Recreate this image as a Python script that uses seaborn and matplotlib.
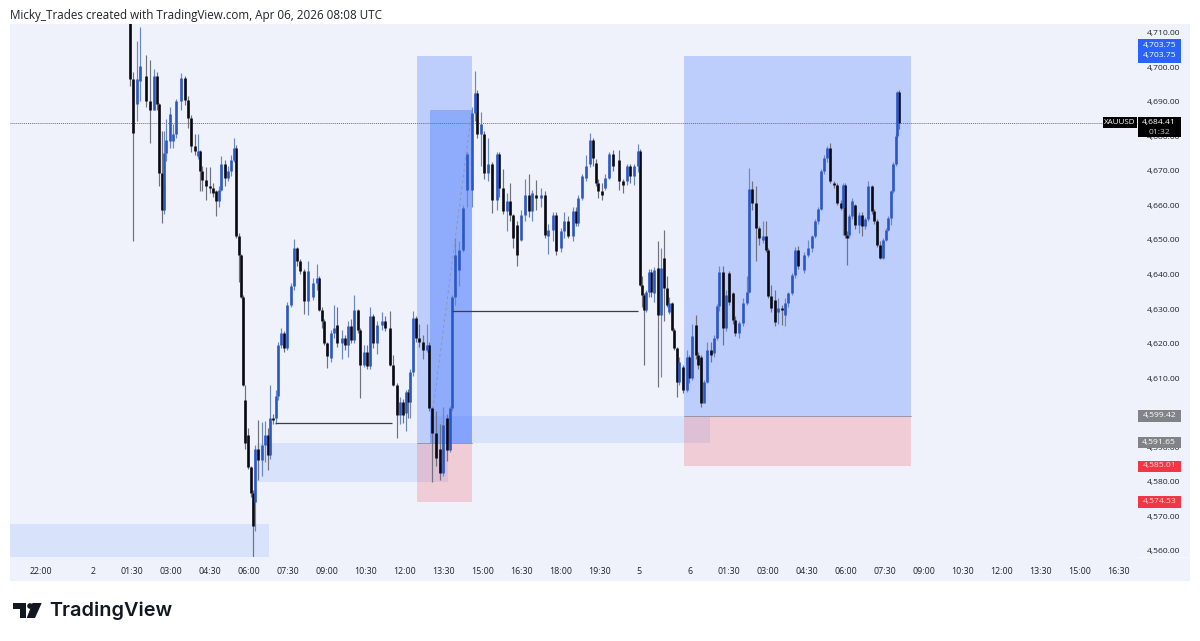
import numpy as np
import pandas as pd
import matplotlib.pyplot as plt
import seaborn as sns
from matplotlib.patches import Rectangle, Polygon, Circle
from matplotlib.transforms import ScaledTranslation

# bar position on the time axis (1 slot = 1/39 of a 90 minute tick step)
slots = [1, 4, 8, 11, 17, 21, 25, 28, 30, 33,
         35, 37, 41, 44, 47, 52, 56, 59, 62, 66,
         69, 71, 73, 77, 81, 84, 87, 90, 92, 96,
         99, 102, 105, 107, 110, 112, 114, 116, 119, 122,
         124, 126, 129, 133, 136, 139, 141, 144, 147, 149,
         152, 155, 158, 162, 165, 168, 171, 175, 179, 184,
         188, 190, 193, 195, 198, 202, 205, 208, 213, 216,
         219, 222, 225, 229, 231, 235, 238, 241, 244, 248,
         253, 256, 261, 264, 268, 271, 274, 277, 279, 281,
         284, 287, 290, 294, 298, 300, 303, 307, 311, 314,
         318, 321, 323, 326, 330, 334, 338, 343, 346, 348,
         352, 355, 359, 363, 368, 370, 374, 378, 381, 384,
         388, 392, 396, 400, 403, 407, 412, 416, 419, 424,
         427, 432, 435, 439, 444, 447, 449, 453, 457, 461,
         464, 467, 469, 473, 476, 480, 484, 490, 494, 498,
         501, 505, 509, 511, 513, 515, 517, 520, 522, 525,
         529, 532, 535, 538, 540, 543, 545, 548, 550, 554,
         558, 560, 563, 567, 569, 572, 575, 578, 582, 585,
         588, 590, 594, 597, 600, 604, 606, 610, 614, 618,
         620, 623, 627, 630, 634, 637, 639, 642, 646, 649,
         653, 656, 659, 663, 666, 669, 675, 679, 683, 686,
         689, 692, 695, 698, 701, 705, 708, 712, 714, 716,
         718, 720, 723, 726, 730, 733, 736, 739, 743, 745,
         748, 751, 754, 757, 759, 762, 764, 767, 768, 770]
opens = [4716, 4697, 4689.7, 4696.5, 4697.9, 4690.7, 4688.2, 4697.9, 4689.7, 4669.9,
         4659.2, 4675.7, 4679, 4679, 4681, 4690.7, 4697.4, 4691, 4685.8, 4677.6,
         4674.8, 4676.2, 4670.3, 4667.9, 4666, 4665.5, 4664.5, 4661.6, 4665, 4672.3,
         4668.4, 4670.3, 4673.7, 4677.1, 4651.5, 4646.1, 4634, 4604.1, 4593.9, 4584.7,
         4577, 4574.6, 4590, 4586.7, 4591, 4593.9, 4588.1, 4598.8, 4598.8, 4605.1,
         4620.1, 4623.5, 4619.1, 4631.7, 4637, 4648.2, 4644.3, 4641.4, 4632.7, 4634,
         4638, 4639.4, 4630.2, 4626.9, 4620.6, 4616.2, 4623.5, 4625.9, 4620.6, 4622,
         4620.1, 4625.4, 4621.5, 4630.2, 4624.4, 4614.3, 4618.1, 4613.8, 4628.3, 4620.6,
         4625.9, 4626.9, 4624.9, 4614.3, 4608.5, 4599.8, 4603.6, 4600.2, 4606.5, 4603.6,
         4612.3, 4627.8, 4622, 4621, 4618.6, 4619.9, 4601.7, 4594.4, 4590, 4582.8,
         4598.8, 4589.6, 4601.7, 4634, 4641.8, 4647.6, 4665, 4665, 4687.3, 4693.1,
         4681, 4681, 4669.9, 4672.3, 4662.1, 4675.2, 4665.5, 4658.7, 4661.6, 4657.8,
         4654.9, 4650.5, 4657.8, 4663.6, 4658.7, 4663.6, 4662.6, 4663.6, 4651.5, 4653.4,
         4657.8, 4648.1, 4652.9, 4655.8, 4651.5, 4658.7, 4655.3, 4662.6, 4668.4, 4672.3,
         4679.5, 4672.8, 4667, 4664.5, 4665.5, 4668.4, 4675.2, 4673.7, 4667.4, 4667.4,
         4671.8, 4668.9, 4671.8, 4676.2, 4637.5, 4634.6, 4630.2, 4635.5, 4641.3, 4635,
         4642.3, 4628.8, 4645.2, 4636.5, 4629.7, 4632.1, 4624.4, 4619.1, 4609.4, 4613.7,
         4607, 4616.6, 4610.4, 4625.9, 4617.1, 4616.6, 4603.1, 4609.4, 4618.6, 4617.6,
         4622, 4631.2, 4641.3, 4624.9, 4640.9, 4635, 4627.3, 4623.4, 4626.3, 4632.1,
         4635.5, 4665.1, 4661.2, 4653.9, 4650.5, 4651.5, 4647.6, 4634.1, 4633.1, 4629.7,
         4630.7, 4628.8, 4632.1, 4635, 4640.4, 4647.6, 4641.8, 4646.2, 4648.1, 4651.5,
         4655.9, 4659.3, 4670.4, 4674.3, 4677.2, 4667, 4666.5, 4661.2, 4659.7, 4666.5,
         4652, 4652, 4657.3, 4660.7, 4654.9, 4657.8, 4654.4, 4656.4, 4666, 4658.8,
         4655.9, 4649.1, 4645.2, 4650.5, 4653.4, 4656.8, 4664.6, 4672.3, 4680.5, 4693.3]
highs = [4718, 4699, 4708, 4712, 4704, 4702.7, 4699.9, 4699, 4690, 4682,
         4682, 4685.4, 4689, 4684, 4691.2, 4698.9, 4697.8, 4692, 4686.5, 4681,
         4681, 4676.5, 4672, 4671.5, 4671.5, 4667, 4665, 4666, 4674.7, 4673.5,
         4672, 4675, 4680, 4678, 4652.5, 4646.5, 4634.5, 4608.5, 4596, 4585,
         4578, 4591, 4598.3, 4597.8, 4598, 4596, 4608.5, 4600, 4607, 4621,
         4625, 4624, 4632.5, 4638, 4650.6, 4648.5, 4645, 4642, 4644.3, 4639.5,
         4643.5, 4640, 4631, 4627.5, 4621, 4624.5, 4631.5, 4631, 4624.5, 4623,
         4627, 4627.5, 4634.6, 4630.5, 4625, 4620, 4620, 4631, 4629, 4627,
         4629.7, 4628.5, 4630, 4617, 4609, 4605, 4604.5, 4607, 4607.2, 4613,
         4629.8, 4628.5, 4626, 4623, 4626, 4621, 4602, 4601, 4597, 4602,
         4600, 4602.3, 4634.5, 4651, 4650, 4660.5, 4676, 4689, 4699.4, 4694,
         4687.5, 4682, 4680, 4673, 4676, 4676, 4671, 4664, 4667, 4658,
         4656, 4659, 4668, 4669.5, 4665, 4667.8, 4665.5, 4664.5, 4655, 4658.5,
         4658.5, 4654, 4658.5, 4657.5, 4660, 4660, 4663.5, 4669.5, 4675, 4681.5,
         4680, 4674, 4668, 4667, 4669.5, 4676, 4676.5, 4676.5, 4668, 4672.5,
         4672.5, 4672.3, 4678.1, 4676.8, 4640, 4635, 4636, 4642, 4642, 4642.5,
         4650, 4648, 4653.4, 4640, 4634, 4632.6, 4625, 4619.5, 4616.5, 4614.2,
         4618.5, 4617, 4626, 4628.8, 4618, 4617, 4610, 4621, 4621, 4622.8,
         4632, 4642.8, 4642.8, 4636, 4641.5, 4635.5, 4628.5, 4627, 4633.5, 4640,
         4671.4, 4667.5, 4666, 4654.5, 4656, 4655.8, 4648, 4637.5, 4636, 4633.5,
         4631.5, 4633.5, 4635.5, 4641, 4648.5, 4648.7, 4647, 4650.5, 4652, 4656.5,
         4660, 4671, 4675, 4677.8, 4678.5, 4667.5, 4667, 4662, 4667, 4667,
         4653, 4658, 4662.5, 4661, 4658.5, 4658.5, 4657, 4667.5, 4666.5, 4659.5,
         4656.5, 4650, 4651, 4654, 4657.5, 4665, 4673, 4681.5, 4693.5, 4693.8]
lows = [4695, 4650, 4685, 4690.7, 4689, 4678.6, 4688.2, 4688, 4666, 4655.3,
        4658, 4673.3, 4677, 4677, 4680, 4688, 4689.5, 4683, 4676, 4675,
        4674, 4664.5, 4664.5, 4662, 4664, 4663, 4657.3, 4660, 4664.5, 4666,
        4667.5, 4669, 4673, 4651, 4638.4, 4633.5, 4608, 4590, 4584, 4576,
        4557.8, 4566, 4580.9, 4582, 4586, 4583.8, 4587, 4597, 4597, 4604,
        4619, 4618, 4618.5, 4631, 4636, 4643, 4640.5, 4629, 4628.8, 4633,
        4636, 4630, 4625, 4620, 4613.3, 4615, 4622, 4619.5, 4616, 4618.5,
        4616.5, 4620.5, 4620.5, 4623.5, 4604.6, 4613.5, 4613, 4613, 4619, 4617.5,
        4624.5, 4624, 4614, 4608, 4593, 4597, 4597.5, 4595, 4599, 4599,
        4611, 4621, 4619.5, 4616, 4618, 4601, 4580.4, 4585, 4580.9, 4582,
        4586.5, 4589, 4601, 4631.5, 4637, 4647, 4660, 4660, 4685, 4680,
        4672, 4668, 4667.5, 4658.3, 4659, 4663, 4658, 4653, 4656, 4648,
        4642.8, 4650, 4656, 4657, 4656, 4659, 4660, 4651, 4646.5, 4650,
        4646, 4647, 4651, 4651, 4650, 4654.5, 4654.5, 4662, 4667.5, 4671.5,
        4672, 4666, 4662.5, 4662, 4665, 4668, 4670.5, 4665, 4664, 4666.5,
        4667, 4666.5, 4670, 4637, 4631, 4614.2, 4629.5, 4634, 4634, 4632.5,
        4607.9, 4610.8, 4627, 4631, 4629, 4624, 4618.5, 4605, 4608.5, 4606,
        4606.5, 4609, 4610, 4616, 4613, 4602, 4604.5, 4609, 4615, 4616.5,
        4621.5, 4630, 4620, 4624, 4631.5, 4626, 4622.7, 4622, 4625.5, 4631.5,
        4635, 4659, 4644.4, 4649, 4649.5, 4647, 4633.5, 4629.5, 4625.5, 4626,
        4625.8, 4625.5, 4631, 4634.5, 4639.5, 4642, 4641, 4645.5, 4647, 4651,
        4655, 4659, 4669.5, 4673, 4667, 4665.5, 4660.5, 4659, 4652, 4651,
        4643.3, 4651, 4656.5, 4653.5, 4652.5, 4651.5, 4653.5, 4656, 4658, 4655,
        4648.5, 4645, 4645, 4650, 4653, 4654.7, 4664, 4672, 4680, 4682.5]
closes = [4697, 4681.5, 4697.2, 4700.8, 4690.7, 4688.2, 4697.9, 4689.7, 4669.9, 4659.2,
          4675.7, 4679.5, 4686.8, 4681, 4690.7, 4697.4, 4691, 4685.8, 4677.6, 4676.2,
          4676.2, 4670.3, 4667.9, 4666, 4665.5, 4664, 4661.6, 4665, 4672.3, 4668.4,
          4670.3, 4673.7, 4677.1, 4651.5, 4646.1, 4634, 4608.5, 4591.5, 4584.7, 4577,
          4567.6, 4590, 4586.7, 4591, 4593.9, 4588.1, 4598.8, 4598.3, 4605.1, 4620.1,
          4623.5, 4619.1, 4631.7, 4637, 4648.2, 4644.3, 4641.4, 4632.7, 4641.4, 4638,
          4639.4, 4630.2, 4626.9, 4620.6, 4616.7, 4623.5, 4624.9, 4620.6, 4622, 4620.1,
          4625.4, 4621.5, 4630.2, 4624.4, 4614.3, 4618.1, 4613.8, 4628.3, 4620.6, 4625.9,
          4626.9, 4624.9, 4614.3, 4608.5, 4599.8, 4603.6, 4599.8, 4606.5, 4603.6, 4612.3,
          4627.8, 4622, 4621, 4618.6, 4619.9, 4601.7, 4594.4, 4587.2, 4582.8, 4596.8,
          4589.6, 4601.7, 4634, 4646.2, 4647.6, 4659.7, 4675.2, 4687.3, 4693.1, 4681,
          4683.9, 4669.9, 4672.3, 4662.1, 4675.2, 4665.5, 4658.7, 4661.6, 4657.8, 4651,
          4646.2, 4657.8, 4663.6, 4658.7, 4664, 4662.6, 4663.6, 4652, 4653.4, 4657.8,
          4647.1, 4652.9, 4655.8, 4651.5, 4658.7, 4655.3, 4662.6, 4668.9, 4671.8, 4679.5,
          4674.2, 4667, 4664.5, 4663.6, 4668.4, 4675.2, 4671.8, 4667.4, 4666.5, 4671.8,
          4668.9, 4671.8, 4676.2, 4637.5, 4634.6, 4630.2, 4635.5, 4641.3, 4635.5, 4641.8,
          4628.8, 4642.3, 4636.5, 4631.7, 4632.1, 4624.4, 4619.1, 4609.4, 4615.2, 4607,
          4616.6, 4610.4, 4622.5, 4617.1, 4614.2, 4603.1, 4609.4, 4618.6, 4617.1, 4622,
          4631.2, 4641.3, 4624.9, 4634.6, 4632.6, 4627.3, 4623.4, 4626.3, 4632.1, 4635.5,
          4665.1, 4661.2, 4653.9, 4651, 4651.5, 4647.6, 4634.1, 4630.7, 4626.8, 4630.7,
          4630.2, 4632.1, 4635, 4640.4, 4647.6, 4642.8, 4646.2, 4648.1, 4651.5, 4655.9,
          4659.3, 4670.4, 4674.3, 4677.2, 4667.5, 4666.5, 4661.2, 4659.7, 4666.5, 4652,
          4651, 4657.3, 4661.7, 4654.9, 4657.8, 4654.4, 4656.4, 4666, 4658.8, 4655.9,
          4649.1, 4645.2, 4650.5, 4653.4, 4656.8, 4664.6, 4672.3, 4680.5, 4693.3, 4684.4]

price_ticks = [4710, 4700, 4690, 4680, 4670, 4660, 4650, 4640, 4630, 4620, 4610,
               4600, 4590, 4580, 4570, 4560]
time_ticks = [-88, -36, 3, 42, 81, 120, 159, 198, 237, 276, 315, 354, 393, 432, 471,
              510, 561, 600, 639, 678, 717, 756, 795, 834, 873, 912, 951, 990]
time_labels = ["22:00", "2", "01:30", "03:00", "04:30", "06:00", "07:30", "09:00",
               "10:30", "12:00", "13:30", "15:00", "16:30", "18:00", "19:30", "5",
               "6", "01:30", "03:00", "04:30", "06:00", "07:30", "09:00", "10:30",
               "12:00", "13:30", "15:00", "16:30"]
last_price = 4684.41
tp_price = 4703.75
long1_entry, long1_stop = 4591.65, 4574.53
long2_entry, long2_stop = 4599.42, 4585.01

BG = "#eff2fb"
BLUE = "#2962ff"
RED = "#f23645"

sns.set_theme(style="white", rc={"axes.spines.top": False, "axes.spines.right": False,
                                 "axes.spines.left": False, "axes.spines.bottom": False})
plt.rcParams["font.family"] = ["Open Sans", "DejaVu Sans"]

df = pd.DataFrame({"slot": slots, "open": opens, "high": highs, "low": lows, "close": closes})
df["direction"] = np.where(df["close"] >= df["open"], "up", "down")
df["bar"] = df.index

wicks = pd.concat([df.assign(price=df["low"]), df.assign(price=df["high"])])
bodies = pd.concat([df.assign(price=df["open"]), df.assign(price=df["close"])])

fig = plt.figure(figsize=(12, 6.41), dpi=100)


def px_axes(zorder):
    # full figure layer in image pixels, for the pane, price tags and logo
    layer = fig.add_axes([0, 0, 1, 1], zorder=zorder)
    layer.set_xlim(0, 1200)
    layer.set_ylim(641, 0)
    layer.axis("off")
    return layer


back = px_axes(0)
back.add_patch(Rectangle((10, 24), 1180, 557, color=BG, lw=0))
back.plot([1138, 1190], [557, 557], color="#f7f8fd", lw=0.8)

ax = fig.add_axes([10 / 1200, (641 - 557) / 641, 1128 / 1200, 533 / 641], zorder=1)
ax.patch.set_alpha(0)

# zones
ax.add_patch(Rectangle((-119, 4557), 259, 11.2, color=BLUE, alpha=0.11, lw=0, zorder=1))
ax.add_patch(Rectangle((128, 4580.3), 191, long1_entry - 4580.3, color=BLUE, alpha=0.11, lw=0, zorder=1))
ax.add_patch(Rectangle((301, long1_entry), 280, long2_entry - long1_entry, color=BLUE, alpha=0.11, lw=0, zorder=1))
ax.add_patch(Rectangle((288, long1_entry), 55, tp_price - long1_entry, color=BLUE, alpha=0.25, lw=0, zorder=1))
ax.add_patch(Rectangle((288, long1_stop), 55, long1_entry - long1_stop, color=RED, alpha=0.2, lw=0, zorder=1))
ax.add_patch(Rectangle((301, long1_entry), 42, 4688.1 - long1_entry, color=BLUE, alpha=0.31, lw=0, zorder=1))
ax.add_patch(Rectangle((555, long2_entry), 227, tp_price - long2_entry, color=BLUE, alpha=0.25, lw=0, zorder=1))
ax.add_patch(Rectangle((555, long2_stop), 227, long2_entry - long2_stop, color=RED, alpha=0.2, lw=0, zorder=1))
ax.plot([288, 343], [long1_entry, long1_entry], color="#8a8f9c", lw=0.6, zorder=2)
ax.plot([555, 782], [long2_entry, long2_entry], color="#8a8f9c", lw=0.6, zorder=2)

ax.axhline(last_price, color="#6d7078", lw=0.7, ls=(0, (1, 1)), zorder=2)
ax.plot([304, 343], [4601.5, 4688.1], color="#8f97a8", lw=0.7, ls=(0, (3, 3)), zorder=2)

sns.lineplot(data=wicks, x="slot", y="price", units="bar", estimator=None, hue="direction",
             palette={"up": "#6a87c8", "down": "#6f727a"}, lw=0.85, legend=False, ax=ax,
             solid_capstyle="butt", zorder=3)
sns.lineplot(data=bodies, x="slot", y="price", units="bar", estimator=None, hue="direction",
             palette={"up": "#2b57c6", "down": "#08080f"}, lw=1.9, legend=False, ax=ax,
             solid_capstyle="butt", zorder=4)

ax.hlines(4597.4, 146, 263, color="#3b3d42", lw=0.9, zorder=5)
ax.hlines(4629.9, 323, 509, color="#3b3d42", lw=0.9, zorder=5)

ax.set_xlim(-119, 1009)
ax.set_ylim(4558.6, 4713.0)
ax.yaxis.tick_right()
ax.set_yticks(price_ticks)
ax.set_yticklabels([f"{p:,.2f}" for p in price_ticks])
ax.set_xticks(time_ticks)
ax.set_xticklabels(time_labels)
ax.tick_params(axis="x", length=0, labelsize=6.4, labelcolor="#20232b", pad=7)
ax.tick_params(axis="y", length=0, labelsize=6.1, labelcolor="#20232b", pad=6)
ax.set_xlabel("")
ax.set_ylabel("")

# the price scale text sits a little above the true level in the reference
up_shift = ScaledTranslation(0, 1.5 / 100, fig.dpi_scale_trans)
for lbl in ax.get_yticklabels():
    lbl.set_transform(lbl.get_transform() + up_shift)

top = px_axes(2)


def price_tag(y0, y1, color, lines, x0=1138, x1=1180.5, size=6.1):
    top.add_patch(Rectangle((x0, y0), x1 - x0, y1 - y0, color=color, lw=0))
    for ty, txt, tc in lines:
        top.text((x0 + x1) / 2, ty, txt, ha="center", va="center", fontsize=size, color=tc)


price_tag(39, 62.5, BLUE, [(45.5, f"{tp_price:,.2f}", "white"), (56, f"{tp_price:,.2f}", "white")])
price_tag(117, 137, "#000000", [(122.5, f"{last_price:,.2f}", "white"), (132, "01:32", "#c8c8c8")])
price_tag(117, 127.5, "#000000", [(122.5, "XAUUSD", "white")], x0=1103, x1=1137, size=5.8)
price_tag(410, 421.5, "#808387", [(415.7, f"{long2_entry:,.2f}", "white")])
price_tag(436.5, 448, "#808387", [(442.3, f"{long1_entry:,.2f}", "white")])
price_tag(460.5, 471.5, RED, [(466, f"{long2_stop:,.2f}", "#ffd0d4")])
price_tag(496, 508, RED, [(502, f"{long1_stop:,.2f}", "#ffd0d4")])

# title and logo
top.text(10, 15, "Micky_Trades created with TradingView.com, Apr 06, 2026 08:08 UTC",
         ha="left", va="center", fontsize=8.4, color="#20232b")
logo = "#131722"
top.add_patch(Polygon([(12.5, 603), (26, 603), (26, 618), (19.5, 618), (19.5, 609), (12.5, 609)],
                      color=logo, lw=0))
top.add_patch(Circle((30, 606), 2.8, color=logo, lw=0))
top.add_patch(Polygon([(32.5, 603), (41.7, 603), (35, 618), (26.7, 618)], color=logo, lw=0))
top.text(49, 611, "TradingView", ha="left", va="center", fontsize=14.3, color=logo,
         family="Inter", fontweight="semibold")

fig.savefig("out.png", dpi=100)
